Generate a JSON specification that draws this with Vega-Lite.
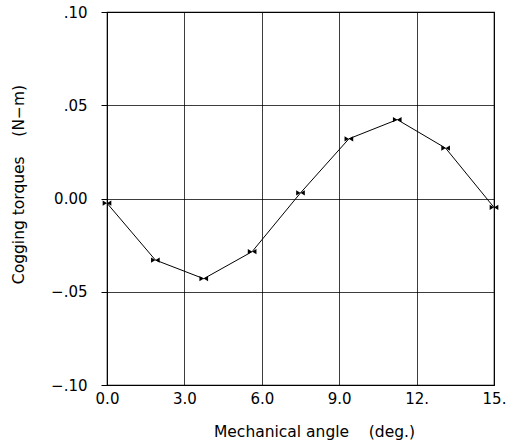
{
  "$schema": "https://vega.github.io/schema/vega-lite/v6.json",
  "autosize": "none",
  "width": 387,
  "height": 373,
  "padding": {"left": 107, "top": 12, "right": 18, "bottom": 62},
  "background": "white",
  "config": {
    "view": {"stroke": "black", "strokeWidth": 1.2},
    "font": "DejaVu Sans",
    "axis": {
      "labelFont": "DejaVu Sans",
      "titleFont": "DejaVu Sans",
      "labelFontSize": 15,
      "titleFontSize": 15.5,
      "labelColor": "black",
      "titleColor": "black",
      "titleFontWeight": "normal",
      "gridColor": "black",
      "gridOpacity": 0.85,
      "gridWidth": 0.9,
      "domain": false,
      "tickColor": "black"
    }
  },
  "data": {
    "values": [
      {"angle": 0, "torque": -0.0025},
      {"angle": 1.875, "torque": -0.033},
      {"angle": 3.75, "torque": -0.043},
      {"angle": 5.625, "torque": -0.0285},
      {"angle": 7.5, "torque": 0.003},
      {"angle": 9.375, "torque": 0.032},
      {"angle": 11.25, "torque": 0.0423},
      {"angle": 13.125, "torque": 0.027},
      {"angle": 15, "torque": -0.0048}
    ]
  },
  "encoding": {
    "x": {
      "field": "angle",
      "type": "quantitative",
      "scale": {"domain": [0, 15], "nice": false, "zero": false},
      "axis": {
        "values": [0, 3, 6, 9, 12, 15],
        "labelExpr": "datum.value == 0 ? '0.0' : datum.value == 3 ? '3.0' : datum.value == 6 ? '6.0' : datum.value == 9 ? '9.0' : datum.value == 12 ? '12.' : '15.'",
        "ticks": false,
        "labelPadding": 6,
        "labelFlush": false,
        "title": "Mechanical angle\u00a0\u00a0\u00a0\u00a0(deg.)",
        "titlePadding": 18,
        "titleX": 207
      }
    },
    "y": {
      "field": "torque",
      "type": "quantitative",
      "scale": {"domain": [-0.1, 0.1], "nice": false},
      "axis": {
        "values": [-0.1, -0.05, 0, 0.05, 0.1],
        "labelExpr": "datum.value > 0.07 ? '.10' : datum.value > 0.03 ? '.05' : datum.value > -0.01 ? '0.00' : datum.value > -0.07 ? '−.05' : '−.10'",
        "ticks": true,
        "tickSize": 6,
        "labelPadding": 14,
        "labelFlush": false,
        "title": "Cogging torques\u00a0\u00a0\u00a0\u00a0(N−m)",
        "titlePadding": 24,
        "titleY": 172
      }
    }
  },
  "layer": [
    {
      "mark": {"type": "line", "color": "black", "strokeWidth": 1}
    },
    {
      "mark": {
        "type": "point",
        "shape": "M-1,-0.6L1,0.6L1,-0.6L-1,0.6Z",
        "filled": true,
        "color": "black",
        "size": 75,
        "opacity": 1
      }
    }
  ]
}
